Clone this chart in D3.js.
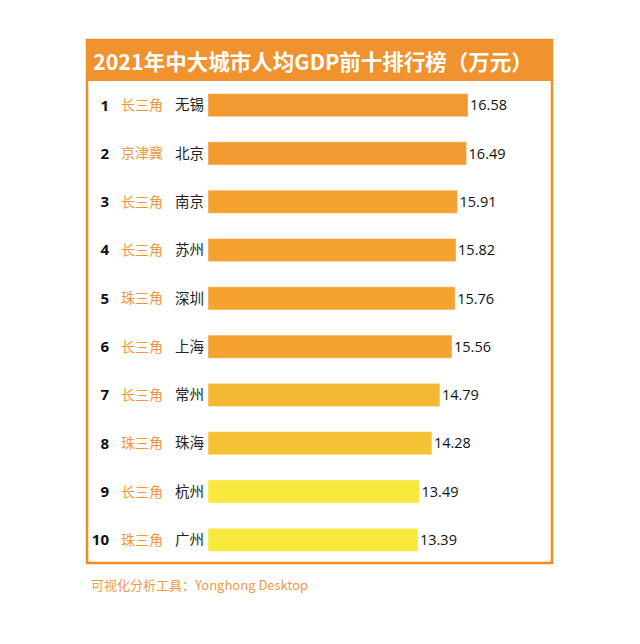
<!DOCTYPE html>
<html>
<head>
<meta charset="utf-8">
<script src="https://cdn.jsdelivr.net/npm/d3@7"></script>
<style>
  html, body { margin: 0; padding: 0; background: #fff; }
  svg { display: block; }
</style>
</head>
<body>
<script>
const title = "2021年中大城市人均GDP前十排行榜（万元）";
const footer = "可视化分析工具：Yonghong Desktop";
const ranks = ["1","2","3","4","5","6","7","8","9","10"];
const regions = ["长三角","京津冀","长三角","长三角","珠三角","长三角","长三角","珠三角","长三角","珠三角"];
const cities = ["无锡","北京","南京","苏州","深圳","上海","常州","珠海","杭州","广州"];
const values = [16.58, 16.49, 15.91, 15.82, 15.76, 15.56, 14.79, 14.28, 13.49, 13.39];

const W = 640, H = 644;
const svg = d3.select("body").append("svg").attr("width", W).attr("height", H);
const cjk = "'Noto Sans CJK SC', 'Open Sans', sans-serif";
const latin = "'Open Sans', 'Noto Sans CJK SC', sans-serif";

const box = {x0: 87, x1: 552, y0: 40, titleH: 41, y1: 563};

// frame
svg.append("rect").attr("x", box.x0).attr("y", box.y0)
  .attr("width", box.x1 - box.x0).attr("height", box.y1 - box.y0)
  .attr("fill", "#fff").attr("stroke", "#F28B20").attr("stroke-width", 2.5);
svg.append("rect").attr("x", box.x0 - 1).attr("y", box.y0)
  .attr("width", box.x1 - box.x0 + 2).attr("height", box.titleH)
  .attr("fill", "#F0922E");
svg.append("text").attr("x", 93).attr("y", 70)
  .attr("fill", "#fff").attr("font-family", cjk).attr("font-weight", "bold")
  .attr("font-size", 21.5).text(title);

const y = d3.scaleBand().domain(ranks).range([81, 564]).paddingInner(0.52).paddingOuter(0.26);
const x = d3.scaleLinear().domain([0, d3.max(values)]).range([208, 468]);
const color = d3.scaleThreshold()
  .domain([14.0, 14.5, 15.0, 16.0])
  .range(["#F9E83E", "#F6C235", "#F4B733", "#F4A331", "#F29A2F"]);

const rows = svg.append("g").selectAll("g").data(ranks).join("g")
  .attr("transform", r => `translate(0,${y(r)})`);
const bh = y.bandwidth();

rows.append("rect")
  .attr("x", x(0))
  .attr("y", 0)
  .attr("width", (r, i) => x(values[i]) - x(0))
  .attr("height", bh)
  .attr("fill", (r, i) => color(values[i]))
  .attr("stroke", "rgba(255,255,255,0.45)").attr("stroke-width", 1);

rows.append("text")
  .attr("x", 109).attr("y", bh / 2).attr("dy", "0.36em")
  .attr("text-anchor", "end")
  .attr("font-family", latin).attr("font-weight", "bold").attr("font-size", 15)
  .attr("fill", "#111").text(r => r);

rows.append("text")
  .attr("x", 121).attr("y", bh / 2).attr("dy", "0.36em")
  .attr("font-family", cjk).attr("font-size", 14)
  .attr("fill", "#F2963A").text((r, i) => regions[i]);

rows.append("text")
  .attr("x", 175).attr("y", bh / 2).attr("dy", "0.36em")
  .attr("font-family", cjk).attr("font-size", 14.5)
  .attr("fill", "#222").text((r, i) => cities[i]);

rows.append("text")
  .attr("x", (r, i) => x(values[i]) + 2).attr("y", bh / 2).attr("dy", "0.36em")
  .attr("font-family", latin).attr("font-size", 14.5)
  .attr("fill", "#111").text((r, i) => values[i].toFixed(2));

svg.append("text").attr("x", 91).attr("y", 590)
  .attr("font-family", cjk).attr("font-size", 13)
  .attr("fill", "#F29A46").text(footer);
</script>
</body>
</html>
